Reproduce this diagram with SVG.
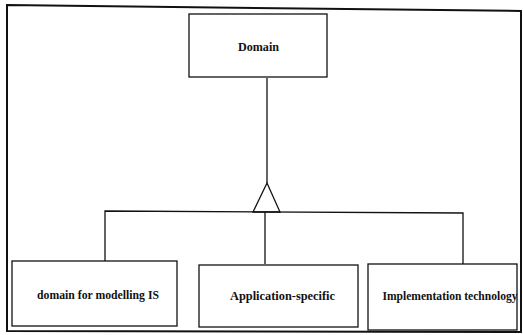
<svg xmlns="http://www.w3.org/2000/svg" width="523" height="335" viewBox="0 0 523 335">
<style>
.box{fill:#fff;stroke:#111;stroke-width:1.3}
.ln{fill:none;stroke:#111;stroke-width:1.3}
text{font-family:"Liberation Serif","Times New Roman",serif;font-weight:bold;font-size:11.5px;fill:#111;text-anchor:middle}
</style>
<rect width="523" height="335" fill="#fff"/>
<polygon points="7,5 521,11 521,332 7,331" fill="none" stroke="#111" stroke-width="2"/>
<g id="connectors">
<line class="ln" x1="267" y1="78" x2="267" y2="183"/>
<polygon class="ln" points="267,183 253,212 280,212"/>
<polyline class="ln" points="105,262 105,211 463,213 463,264"/>
<line class="ln" x1="265" y1="212" x2="265" y2="264"/>
</g>
<g id="domain">
<rect class="box" x="189" y="14" width="138" height="63"/>
<text x="258.5" y="51" textLength="41" lengthAdjust="spacingAndGlyphs">Domain</text>
</g>
<g id="modelling">
<rect class="box" x="12" y="261" width="165" height="65"/>
<text x="98" y="299" textLength="122" lengthAdjust="spacingAndGlyphs">domain for modelling IS</text>
</g>
<g id="application">
<rect class="box" x="199" y="265" width="159" height="62"/>
<text x="282.5" y="300" textLength="105" lengthAdjust="spacingAndGlyphs">Application-specific</text>
</g>
<g id="implementation">
<rect class="box" x="368" y="264" width="149" height="66"/>
<text x="450" y="300" textLength="135" lengthAdjust="spacingAndGlyphs">Implementation technology</text>
</g>
</svg>
